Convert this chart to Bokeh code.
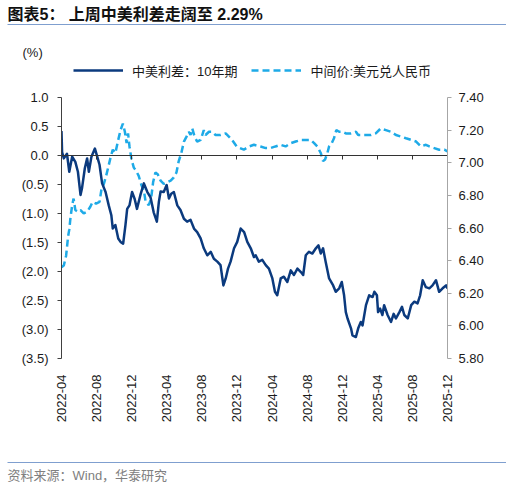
import math
import pandas as pd
from bokeh.plotting import figure
from bokeh.layouts import column
from bokeh.models import (Range1d, LinearAxis, DatetimeAxis, FixedTicker, CustomJSTickFormatter,
                          PrintfTickFormatter, DatetimeTickFormatter, Legend, LegendItem)
from bokeh.core.properties import value
from bokeh.embed import file_html
from bokeh.resources import INLINE

# ---------------- data ----------------
title_text = "图表5： 上周中美利差走阔至 2.29%"
unit_text = "(%)"
source_text = "资料来源：Wind，华泰研究"
spread_name = "中美利差：10年期"
fx_name = "中间价:美元兑人民币"

x_tick_labels = ["2022-04", "2022-08", "2022-12", "2023-04", "2023-08", "2023-12",
                 "2024-04", "2024-08", "2024-12", "2025-04", "2025-08", "2025-12"]
left_ticks = [1.0, 0.5, 0.0, -0.5, -1.0, -1.5, -2.0, -2.5, -3.0, -3.5]
right_ticks = [5.8, 6.0, 6.2, 6.4, 6.6, 6.8, 7.0, 7.2, 7.4]

spread_dates = [
    "2022-04-01", "2022-04-03", "2022-04-09", "2022-04-20", "2022-04-28", "2022-05-08", "2022-05-19",
    "2022-05-28", "2022-06-06", "2022-06-11", "2022-06-21", "2022-06-29", "2022-07-05", "2022-07-14",
    "2022-07-26", "2022-08-03", "2022-08-11", "2022-08-20", "2022-09-01", "2022-09-12", "2022-09-21",
    "2022-09-26", "2022-10-05", "2022-10-15", "2022-10-23", "2022-11-01", "2022-11-09", "2022-11-15",
    "2022-11-23", "2022-12-02", "2022-12-11", "2022-12-19", "2022-12-31", "2023-01-12", "2023-01-24",
    "2023-02-04", "2023-02-15", "2023-02-26", "2023-03-05", "2023-03-11", "2023-03-22", "2023-04-01",
    "2023-04-09", "2023-04-17", "2023-04-26", "2023-05-08", "2023-05-19", "2023-05-31", "2023-06-11",
    "2023-06-23", "2023-07-05", "2023-07-16", "2023-07-28", "2023-08-08", "2023-08-20", "2023-09-01",
    "2023-09-12", "2023-09-24", "2023-10-05", "2023-10-15", "2023-10-23", "2023-10-31", "2023-11-09",
    "2023-11-21", "2023-12-02", "2023-12-14", "2023-12-26", "2024-01-06", "2024-01-18", "2024-01-29",
    "2024-02-04", "2024-02-15", "2024-02-27", "2024-03-10", "2024-03-21", "2024-04-02", "2024-04-11",
    "2024-04-19", "2024-05-01", "2024-05-12", "2024-05-24", "2024-06-05", "2024-06-16", "2024-06-28",
    "2024-07-10", "2024-07-18", "2024-07-27", "2024-08-07", "2024-08-19", "2024-08-31", "2024-09-09",
    "2024-09-17", "2024-09-25", "2024-10-04", "2024-10-16", "2024-10-30", "2024-11-08", "2024-11-20",
    "2024-11-29", "2024-12-07", "2024-12-13", "2024-12-19", "2024-12-31", "2025-01-05", "2025-01-17",
    "2025-01-25", "2025-02-03", "2025-02-09", "2025-02-21", "2025-03-04", "2025-03-16", "2025-03-22",
    "2025-03-31", "2025-04-04", "2025-04-11", "2025-04-19", "2025-04-25", "2025-05-07", "2025-05-19",
    "2025-05-28", "2025-06-05", "2025-06-17", "2025-06-26", "2025-07-04", "2025-07-16", "2025-07-28",
    "2025-08-08", "2025-08-19", "2025-08-28", "2025-09-06", "2025-09-17", "2025-09-29", "2025-10-10",
    "2025-10-22", "2025-11-02", "2025-11-14", "2025-11-26", "2025-12-01"]
spread_values = [
    0.42, 0.06, -0.05, 0.03, -0.28, -0.02, -0.11,
    -0.28, -0.68, -0.57, -0.22, -0.05, -0.28, -0.02,
    0.12, -0.02, -0.16, -0.48, -0.63, -0.86, -1.03,
    -1.26, -1.20, -1.43, -1.49, -1.52, -1.20, -0.92,
    -0.86, -0.63, -0.75, -0.92, -0.68, -0.48, -0.63,
    -0.72, -0.98, -1.14, -0.80, -0.62, -0.63, -0.51,
    -0.74, -0.66, -0.63, -0.86, -0.94, -1.09, -1.14,
    -1.11, -1.26, -1.32, -1.43, -1.60, -1.72, -1.66,
    -1.78, -1.83, -1.89, -2.24, -2.12, -1.95, -1.83,
    -1.60, -1.49, -1.26, -1.32, -1.49, -1.60, -1.75,
    -1.72, -1.83, -1.80, -1.89, -1.95, -2.12, -2.35,
    -2.41, -2.12, -2.09, -2.18, -1.98, -2.06, -1.95,
    -2.01, -2.06, -1.72, -1.66, -1.69, -1.60, -1.55,
    -1.69, -1.60, -1.83, -2.12, -2.24, -2.35, -2.29,
    -2.18, -2.41, -2.70, -2.81, -2.98, -3.10, -3.13,
    -2.98, -2.87, -2.93, -2.58, -2.41, -2.44, -2.35,
    -2.41, -2.70, -2.64, -2.75, -2.58, -2.75, -2.87,
    -2.73, -2.81, -2.70, -2.61, -2.75, -2.81, -2.58,
    -2.52, -2.55, -2.41, -2.15, -2.27, -2.29, -2.24,
    -2.15, -2.35, -2.29, -2.24, -2.29]

fx_dates = [
    "2022-04-01", "2022-04-09", "2022-04-17", "2022-04-24", "2022-04-28", "2022-05-02", "2022-05-08",
    "2022-05-13", "2022-05-19", "2022-05-28", "2022-06-06", "2022-06-17", "2022-06-29", "2022-07-10",
    "2022-07-18", "2022-07-30", "2022-08-11", "2022-08-18", "2022-08-26", "2022-09-03", "2022-09-10",
    "2022-09-18", "2022-09-26", "2022-10-05", "2022-10-15", "2022-10-23", "2022-10-31", "2022-11-07",
    "2022-11-13", "2022-11-18", "2022-11-23", "2022-11-30", "2022-12-08", "2022-12-16", "2022-12-25",
    "2023-01-04", "2023-01-12", "2023-01-18", "2023-01-29", "2023-02-06", "2023-02-13", "2023-02-21",
    "2023-03-01", "2023-03-11", "2023-03-22", "2023-04-03", "2023-04-15", "2023-04-26", "2023-05-05",
    "2023-05-13", "2023-05-22", "2023-05-31", "2023-06-09", "2023-06-17", "2023-06-23", "2023-06-29",
    "2023-07-07", "2023-07-16", "2023-07-28", "2023-08-08", "2023-08-14", "2023-08-26", "2023-09-06",
    "2023-09-18", "2023-10-05", "2023-10-23", "2023-11-09", "2023-11-18", "2023-11-30", "2023-12-11",
    "2023-12-25", "2024-01-12", "2024-01-29", "2024-02-21", "2024-03-10", "2024-03-27", "2024-04-13",
    "2024-05-01", "2024-05-18", "2024-06-05", "2024-06-22", "2024-07-10", "2024-07-27", "2024-08-13",
    "2024-08-25", "2024-09-05", "2024-09-17", "2024-09-25", "2024-10-02", "2024-10-10", "2024-10-16",
    "2024-10-25", "2024-11-02", "2024-11-10", "2024-11-20", "2024-12-01", "2024-12-13", "2024-12-31",
    "2025-01-17", "2025-01-25", "2025-02-09", "2025-02-24", "2025-03-10", "2025-03-27", "2025-04-13",
    "2025-05-01", "2025-05-19", "2025-06-05", "2025-06-23", "2025-07-10", "2025-07-28", "2025-08-14",
    "2025-08-31", "2025-09-17", "2025-09-29", "2025-10-16", "2025-11-02", "2025-11-20", "2025-12-01"]
fx_values = [
    6.36, 6.37, 6.43, 6.55, 6.59, 6.66, 6.74,
    6.78, 6.71, 6.70, 6.71, 6.69, 6.70, 6.73,
    6.76, 6.75, 6.76, 6.84, 6.87, 6.92, 6.97,
    7.03, 7.08, 7.06, 7.14, 7.20, 7.24, 7.19,
    7.12, 7.18, 7.10, 7.02, 6.97, 6.95, 6.92,
    6.86, 6.83, 6.76, 6.74, 6.78, 6.88, 6.94,
    6.93, 6.89, 6.87, 6.88, 6.89, 6.91, 6.94,
    7.01, 7.06, 7.13, 7.16, 7.19, 7.17, 7.21,
    7.16, 7.13, 7.14, 7.20, 7.17, 7.19, 7.19,
    7.17, 7.17, 7.18, 7.15, 7.13, 7.10, 7.09,
    7.08, 7.10, 7.11, 7.10, 7.09, 7.09, 7.10,
    7.11, 7.10, 7.12, 7.13, 7.14, 7.14, 7.14,
    7.12, 7.10, 7.06, 7.01, 7.02, 7.06, 7.10,
    7.12, 7.15, 7.20, 7.19, 7.19, 7.18, 7.18,
    7.19, 7.17, 7.17, 7.17, 7.17, 7.18, 7.21,
    7.20, 7.19, 7.17, 7.16, 7.15, 7.14, 7.13,
    7.10, 7.11, 7.10, 7.09, 7.08, 7.08, 7.07]

# ---------------- styling ----------------
NAVY = "#0B3A7E"
SKY = "#1EAAE7"
TEXT = "#1a1a1a"
RULE = "#7F9FCF"
LATIN = "Liberation Sans"
CJK = "Liberation Sans, Noto Sans CJK SC"
W = 506
H_HEAD, H_MAIN, H_FOOT = 89, 351, 46
SP_STYLE = dict(line_color=NAVY, line_width=2.5, line_join="round")
FX_STYLE = dict(line_color=SKY, line_width=2.5, line_dash="7 4")


def plain(fig):
    fig.xgrid.visible = False
    fig.ygrid.visible = False
    fig.outline_line_color = None
    fig.background_fill_color = "white"
    fig.border_fill_color = "white"


def panel(height):
    f = figure(width=W, height=height, output_backend="svg", toolbar_location=None,
               x_range=Range1d(0, W), y_range=Range1d(height, 0),
               x_axis_location=None, y_axis_location=None, frame_align=False,
               min_border=0, min_border_left=0, min_border_right=0,
               min_border_top=0, min_border_bottom=0)
    plain(f)
    return f


# ---------------- header: title, unit, legend ----------------
head = panel(H_HEAD)
head.text(x=[7], y=[14], text=[title_text], text_font=value(CJK), text_font_size=value("16px"),
          text_font_style="bold", text_color="#111111", text_baseline="middle", text_align="left")
head.segment(x0=[7], y0=[24], x1=[W], y1=[24], line_color=RULE, line_width=1.2)
head.text(x=[22], y=[52], text=[unit_text], text_font=value(LATIN), text_font_size=value("13px"),
          text_color=TEXT, text_baseline="middle", text_align="left")
# single-point renderers: they draw nothing themselves, they only give the legend its line styles
key_sp = head.line(x=[0], y=[0], **SP_STYLE)
key_fx = head.line(x=[0], y=[0], **FX_STYLE)
legend = Legend(items=[LegendItem(label=value(spread_name), renderers=[key_sp]),
                       LegendItem(label=value(fx_name), renderers=[key_fx])],
                orientation="horizontal", location=(73, 9), glyph_width=50, glyph_height=20,
                label_height=20, label_standoff=9, spacing=14, padding=0, margin=0,
                border_line_color=None, background_fill_alpha=0,
                label_text_font=CJK, label_text_font_size="13px", label_text_color=TEXT)
head.add_layout(legend)

# ---------------- main chart ----------------
sp_x = pd.to_datetime(spread_dates)
fx_x = pd.to_datetime(fx_dates)
tick_ms = [pd.Timestamp(s + "-01").value // 10**6 for s in x_tick_labels]
x_start = pd.Timestamp(x_tick_labels[0] + "-01").to_pydatetime()
x_end = pd.Timestamp(x_tick_labels[-1] + "-01").to_pydatetime()

p = figure(width=W, height=H_MAIN, x_axis_type="datetime", output_backend="svg",
           toolbar_location=None, x_range=Range1d(x_start, x_end),
           y_range=Range1d(left_ticks[-1], left_ticks[0]), frame_align=False,
           min_border_left=61, min_border_right=59, min_border_top=8, min_border_bottom=82)
p.extra_y_ranges = {"fx": Range1d(right_ticks[0], right_ticks[-1])}
plain(p)

fmt = "%Y-%m"
dt_fmt = DatetimeTickFormatter(microseconds=fmt, milliseconds=fmt, seconds=fmt, minsec=fmt,
                               minutes=fmt, hourmin=fmt, hours=fmt, days=fmt, months=fmt, years=fmt)

xa = p.xaxis[0]
xa.ticker = FixedTicker(ticks=tick_ms)
xa.formatter = dt_fmt
xa.axis_line_color = None
xa.major_tick_line_color = None
xa.minor_tick_line_color = None
xa.major_label_orientation = math.pi / 2
xa.major_label_standoff = 10
xa.major_label_text_font = LATIN
xa.major_label_text_font_size = "13px"
xa.major_label_text_color = TEXT

# axis line at zero with its ticks
za = DatetimeAxis(fixed_location=0, ticker=FixedTicker(ticks=tick_ms),
                  formatter=CustomJSTickFormatter(code="return ''"))
za.axis_line_color = "#333333"
za.axis_line_width = 1.2
za.major_tick_line_color = "#333333"
za.major_tick_out = 4
za.major_tick_in = 0
za.minor_tick_line_color = None
za.major_label_text_font_size = "1px"
p.add_layout(za, "below")

ya = p.yaxis[0]
ya.ticker = FixedTicker(ticks=left_ticks)
ya.formatter = CustomJSTickFormatter(code="""
if (Math.abs(tick) < 1e-9) { return "0.0"; }
return tick < 0 ? "(" + Math.abs(tick).toFixed(1) + ")" : tick.toFixed(1);
""")
ya.axis_line_color = "#404040"
ya.major_tick_line_color = "#404040"
ya.major_tick_out = 4
ya.major_tick_in = 0
ya.minor_tick_line_color = None
ya.major_label_standoff = 9
ya.major_label_text_font = LATIN
ya.major_label_text_font_size = "13px"
ya.major_label_text_color = TEXT

ra = LinearAxis(y_range_name="fx", ticker=FixedTicker(ticks=right_ticks),
                formatter=PrintfTickFormatter(format="%.2f"))
ra.axis_line_color = "#A6A6A6"
ra.major_tick_line_color = "#A6A6A6"
ra.major_tick_out = 4
ra.major_tick_in = 0
ra.minor_tick_line_color = None
ra.major_label_standoff = 7
ra.major_label_text_font = LATIN
ra.major_label_text_font_size = "13px"
ra.major_label_text_color = TEXT
p.add_layout(ra, "right")

p.line(fx_x, fx_values, y_range_name="fx", **FX_STYLE)
p.line(sp_x, spread_values, **SP_STYLE)

# ---------------- footer ----------------
foot = panel(H_FOOT)
foot.segment(x0=[7], y0=[22], x1=[W], y1=[22], line_color=RULE, line_width=1.2)
foot.text(x=[7], y=[35], text=[source_text], text_font=value(CJK), text_font_size=value("13px"),
          text_color="#808080", text_baseline="middle", text_align="left")

layout = column(head, p, foot, spacing=0)
open("out.html", "w").write(file_html(layout, INLINE))
